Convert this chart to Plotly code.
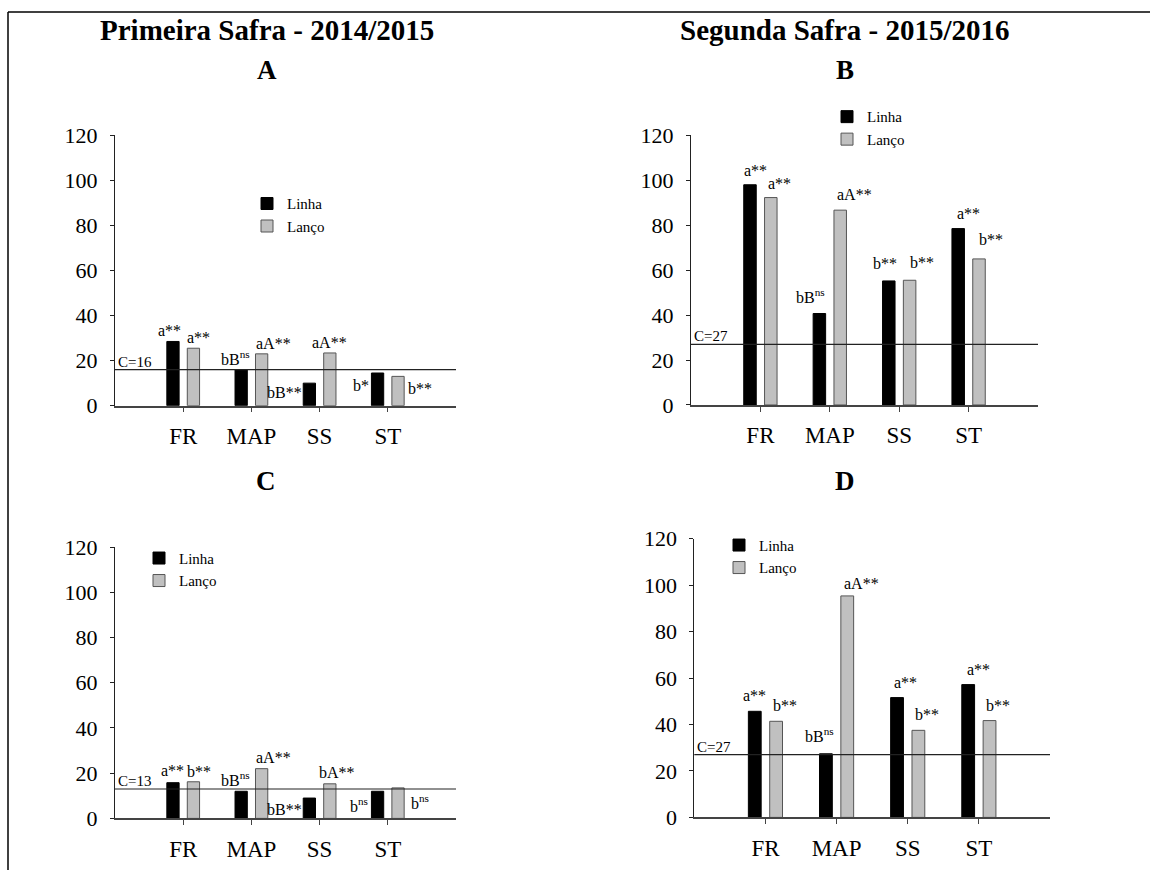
import plotly.graph_objects as go

# ---------------- data ----------------
categories = ["FR", "MAP", "SS", "ST"]
series_names = ["Linha", "Lanço"]

linha_A = [28.5, 16.0, 10.0, 14.5]
lanco_A = [25.5, 23.0, 23.4, 13.0]
linha_B = [98.0, 40.7, 55.2, 78.5]
lanco_B = [92.3, 86.7, 55.5, 65.0]
linha_C = [15.8, 12.0, 9.0, 12.0]
lanco_C = [16.2, 22.0, 15.3, 13.5]
linha_D = [45.7, 27.4, 51.6, 57.2]
lanco_D = [41.4, 95.4, 37.5, 41.7]

control_A = 16
control_B = 27
control_C = 13
control_D = 27

labels_linha_A = ["a**", "bB<sup>ns</sup>", "bB**", "b*"]
labels_lanco_A = ["a**", "aA**", "aA**", "b**"]
labels_linha_B = ["a**", "bB<sup>ns</sup>", "b**", "a**"]
labels_lanco_B = ["a**", "aA**", "b**", "b**"]
labels_linha_C = ["a**", "bB<sup>ns</sup>", "bB**", "b<sup>ns</sup>"]
labels_lanco_C = ["b**", "aA**", "bA**", "b<sup>ns</sup>"]
labels_linha_D = ["a**", "bB<sup>ns</sup>", "a**", "a**"]
labels_lanco_D = ["b**", "aA**", "b**", "b**"]

title_left = "Primeira Safra - 2014/2015"
title_right = "Segunda Safra - 2015/2016"

# ---------------- styling / layout ----------------
FONT = "Liberation Serif"
W, H = 1150, 883
BAR_W = 0.18
OFF_BLACK = -0.24
OFF_GRAY = 0.06

# label placement per bar: (mode, xshift px, yshift px)
place_linha_A = [("c", -3, 1), ("l", 4, 1), ("sl", 0, 0), ("sl", -1, -3)]
place_lanco_A = [("c", 5, 1), ("g", 0, 1), ("c", 0, 1), ("sr", 3, -3)]
place_linha_B = [("c", 6, 5), ("l", 0, 7), ("c", -4, 8), ("c", 10, 6)]
place_lanco_B = [("c", 9, 5), ("g", 2, 6), ("c", 12, 8), ("c", 12, 10)]
place_linha_C = [("c", 0, 3), ("l", 4, 1), ("sl", 0, -2), ("sl", -2, -3)]
place_lanco_C = [("c", 6, 1), ("g", 0, 2), ("c", 7, 2), ("sr", 6, -3)]
place_linha_D = [("c", 0, 6), ("l", 3, 8), ("c", 8, 6), ("c", 10, 6)]
place_lanco_D = [("c", 9, 6), ("g", 2, 3), ("c", 9, 6), ("c", 8, 6)]

panels = [
    dict(key="", letter="A", linha=linha_A, lanco=lanco_A, ctrl=control_A,
         lab1=labels_linha_A, lab2=labels_lanco_A, pl1=place_linha_A, pl2=place_lanco_A,
         px=(115, 456), py=(406.7, 136), legend=(247, 188), letter_pos=(267, 71)),
    dict(key="2", letter="B", linha=linha_B, lanco=lanco_B, ctrl=control_B,
         lab1=labels_linha_B, lab2=labels_lanco_B, pl1=place_linha_B, pl2=place_lanco_B,
         px=(691, 1038), py=(406, 136), legend=(827, 101), letter_pos=(845, 71)),
    dict(key="3", letter="C", linha=linha_C, lanco=lanco_C, ctrl=control_C,
         lab1=labels_linha_C, lab2=labels_lanco_C, pl1=place_linha_C, pl2=place_lanco_C,
         px=(115, 456), py=(820, 548.3), legend=(139, 543), letter_pos=(266, 482)),
    dict(key="4", letter="D", linha=linha_D, lanco=lanco_D, ctrl=control_D,
         lab1=labels_linha_D, lab2=labels_lanco_D, pl1=place_linha_D, pl2=place_lanco_D,
         px=(694.3, 1050), py=(819, 540), legend=(719, 530), letter_pos=(845, 482)),
]

fig = go.Figure()
annotations = []
shapes = []
layout = dict(
    width=W, height=H,
    margin=dict(l=0, r=0, t=0, b=0),
    paper_bgcolor="white", plot_bgcolor="white",
    font=dict(family=FONT, color="black"),
    barmode="overlay",
)


def fx(p):
    return p / W


# the page is photographed slightly compressed vertically; compensate
V_OFF, V_SCALE = 12.5, 0.973


def fy(p):
    f = (p - V_OFF) / V_SCALE
    return min(1.0, max(0.0, 1 - f / H))


for i, pn in enumerate(panels):
    k = pn["key"]
    xa = "x" + k
    ya = "y" + k
    leg = "legend" + k
    for name, vals, color, lcolor, off in [
        (series_names[0], pn["linha"], "black", "black", OFF_BLACK),
        (series_names[1], pn["lanco"], "#c0c0c0", "#555555", OFF_GRAY),
    ]:
        fig.add_trace(go.Bar(
            x=categories, y=vals, name=name, xaxis=xa, yaxis=ya,
            width=BAR_W, offset=off,
            marker=dict(color=color, line=dict(color=lcolor, width=1)),
            legend=leg, showlegend=True,
        ))
    layout["xaxis" + k] = dict(
        domain=[fx(pn["px"][0]), fx(pn["px"][1])], anchor=ya,
        type="category", categoryorder="array", categoryarray=categories,
        range=[-1, 4], showline=True, linecolor="#444444", linewidth=1.5,
        ticks="outside", ticklen=5, tickcolor="#444444", tickwidth=1,
        tickfont=dict(size=23, family=FONT, color="black"),
        ticklabelstandoff=4, showgrid=False, zeroline=False, fixedrange=True,
    )
    layout["yaxis" + k] = dict(
        domain=[fy(pn["py"][0]), fy(pn["py"][1])], anchor=xa,
        range=[0, 120], dtick=20, tick0=0, showline=True, linecolor="#222222",
        linewidth=1, ticks="outside", ticklen=4, tickcolor="#222222",
        tickfont=dict(size=22, family=FONT, color="black"),
        ticklabelstandoff=8, showgrid=False, zeroline=False, fixedrange=True,
    )
    layout[leg] = dict(
        x=fx(pn["legend"][0]), y=fy(pn["legend"][1]), xanchor="left", yanchor="top",
        bgcolor="rgba(0,0,0,0)", font=dict(size=15, family=FONT, color="black"),
        tracegroupgap=0, itemwidth=30,
    )
    # control line
    shapes.append(dict(type="line", xref=xa + " domain", yref=ya, x0=0, x1=1,
                       y0=pn["ctrl"], y1=pn["ctrl"], line=dict(color="#222222", width=1.2)))
    annotations.append(dict(xref=xa + " domain", yref=ya, x=0, y=pn["ctrl"],
                            xanchor="left", yanchor="bottom", showarrow=False,
                            text=f"C={pn['ctrl']}", font=dict(size=15, family=FONT, color="black"),
                            xshift=1, yshift=-2))
    # panel letter
    annotations.append(dict(xref="paper", yref="paper", x=fx(pn["letter_pos"][0]),
                            y=fy(pn["letter_pos"][1]), xanchor="center", yanchor="middle",
                            showarrow=False, text=f"<b>{pn['letter']}</b>",
                            font=dict(size=27, family=FONT, color="black")))
    # bar labels
    for vals, labs, places, off in [
        (pn["linha"], pn["lab1"], pn["pl1"], OFF_BLACK),
        (pn["lanco"], pn["lab2"], pn["pl2"], OFF_GRAY),
    ]:
        for j, (v, t, (mode, xs, ys)) in enumerate(zip(vals, labs, places)):
            left = j + off
            right = j + off + BAR_W
            if mode == "c":
                xv, xan, yan = (left + right) / 2, "center", "bottom"
            elif mode == "l":
                xv, xan, yan = right, "right", "bottom"
            elif mode == "g":
                xv, xan, yan = left, "left", "bottom"
            elif mode == "sl":
                xv, xan, yan = left, "right", "top"
            else:
                xv, xan, yan = right, "left", "top"
            annotations.append(dict(xref=xa, yref=ya, x=xv, y=v, text=t,
                                    xanchor=xan, yanchor=yan, showarrow=False,
                                    xshift=xs, yshift=ys, borderpad=0,
                                    font=dict(size=16, family=FONT, color="black")))

# column titles
annotations.append(dict(xref="paper", yref="paper", x=fx(267), y=fy(31), xanchor="center",
                        yanchor="middle", showarrow=False, text=f"<b>{title_left}</b>",
                        font=dict(size=29, family=FONT, color="black")))
annotations.append(dict(xref="paper", yref="paper", x=fx(845), y=fy(31), xanchor="center",
                        yanchor="middle", showarrow=False, text=f"<b>{title_right}</b>",
                        font=dict(size=29, family=FONT, color="black")))

# frame lines (top and left)
shapes.append(dict(type="line", xref="paper", yref="paper", x0=fx(8), x1=1.0,
                   y0=fy(10), y1=fy(10), line=dict(color="black", width=1.5)))
shapes.append(dict(type="line", xref="paper", yref="paper", x0=fx(8), x1=fx(8),
                   y0=fy(10), y1=0, line=dict(color="black", width=1.5)))

layout["annotations"] = annotations
layout["shapes"] = shapes
fig.update_layout(**layout)
fig.write_html("out.html")
